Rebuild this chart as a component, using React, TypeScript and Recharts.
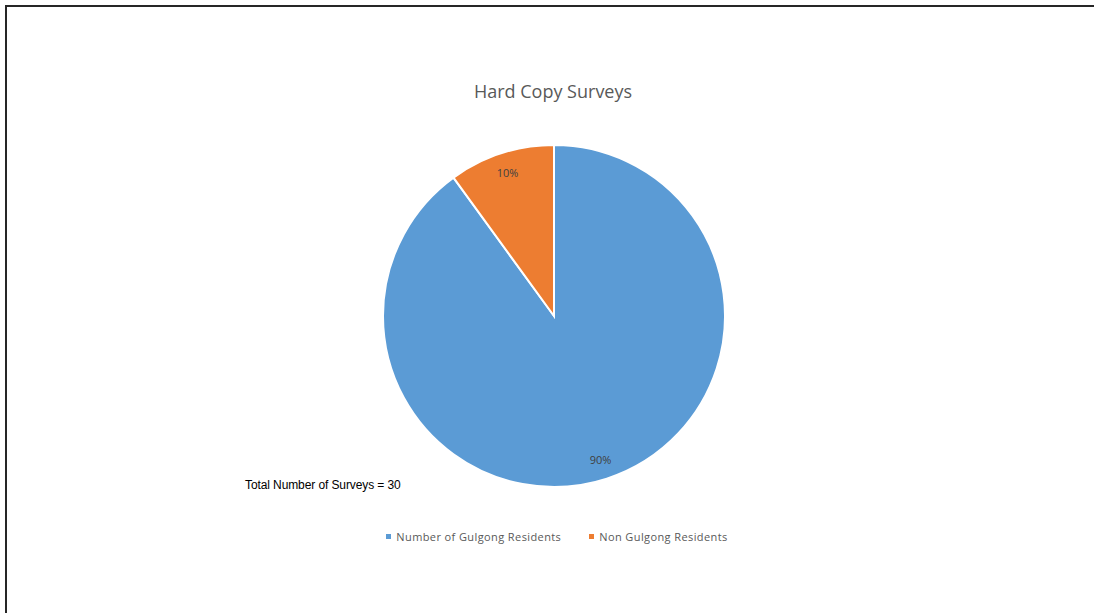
import React from 'react';
import { PieChart, Pie, Cell, Legend } from 'recharts';

const categories = ['Number of Gulgong Residents', 'Non Gulgong Residents'];
const counts = [27, 3];
const COLORS = ['#5B9BD5', '#ED7D31'];

const chartData = categories.map((name, i) => ({ name, value: counts[i] }));

const RADIAN = Math.PI / 180;

const renderLabel = (props: any) => {
    const { cx, cy, midAngle, outerRadius, percent } = props;
    const r = outerRadius * 0.88;
    const x = cx + r * Math.cos(-midAngle * RADIAN);
    const y = cy + r * Math.sin(-midAngle * RADIAN);
    return (
        <text x={x} y={y} fill="#404040" fontSize={11} fontFamily="'Open Sans', sans-serif"
            textAnchor="middle" dominantBaseline="central">
            {`${(percent * 100).toFixed(0)}%`}
        </text>
    );
};

// legend keeps the data order (recharts sorts by name otherwise)
const renderLegend = () => (
    <div style={{ display: 'flex', justifyContent: 'center', gap: 28, fontFamily: "'Open Sans', sans-serif", fontSize: 11, color: '#595959', letterSpacing: 0.4 }}>
        {categories.map((name, i) => (
            <div key={`leg-${i}`} style={{ display: 'flex', alignItems: 'center' }}>
                <span style={{ width: 5, height: 5, background: COLORS[i], display: 'inline-block', marginRight: 5 }} />
                <span>{name}</span>
            </div>
        ))}
    </div>
);

const App: React.FC = () => {
    return (
        <div style={{ position: 'absolute', left: 0, top: 0, width: 1094, height: 613, overflow: 'hidden', background: '#fff' }}>
            <div style={{ position: 'absolute', left: 5, top: 5, width: 1200, height: 800, border: '2px solid #262626' }} />
            <div style={{ position: 'absolute', left: 0, top: 79, width: 1106, textAlign: 'center', fontFamily: "'Open Sans', sans-serif", fontSize: 18, color: '#595959' }}>
                Hard Copy Surveys
            </div>
            <div style={{ position: 'absolute', left: 245, top: 478, fontFamily: "'Liberation Sans', sans-serif", fontSize: 12, color: '#000', letterSpacing: -0.1 }}>
                Total Number of Surveys = 30
            </div>
            <PieChart width={1094} height={613} margin={{ top: 0, right: 0, bottom: 0, left: 0 }} style={{ position: 'absolute', left: 0, top: 0 }}>
                <Pie
                    data={chartData}
                    dataKey="value"
                    nameKey="name"
                    cx={554}
                    cy={316}
                    outerRadius={171}
                    startAngle={90}
                    endAngle={-270}
                    stroke="#ffffff"
                    strokeWidth={2}
                    labelLine={false}
                    label={renderLabel}
                    isAnimationActive={false}
                >
                    {chartData.map((entry, index) => (
                        <Cell key={`cell-${index}`} fill={COLORS[index % COLORS.length]} />
                    ))}
                </Pie>
                <Legend content={renderLegend} verticalAlign="bottom" wrapperStyle={{ top: 529, bottom: 'auto', left: 0, width: 1114 }} />
            </PieChart>
        </div>
    );
};

export default App;
